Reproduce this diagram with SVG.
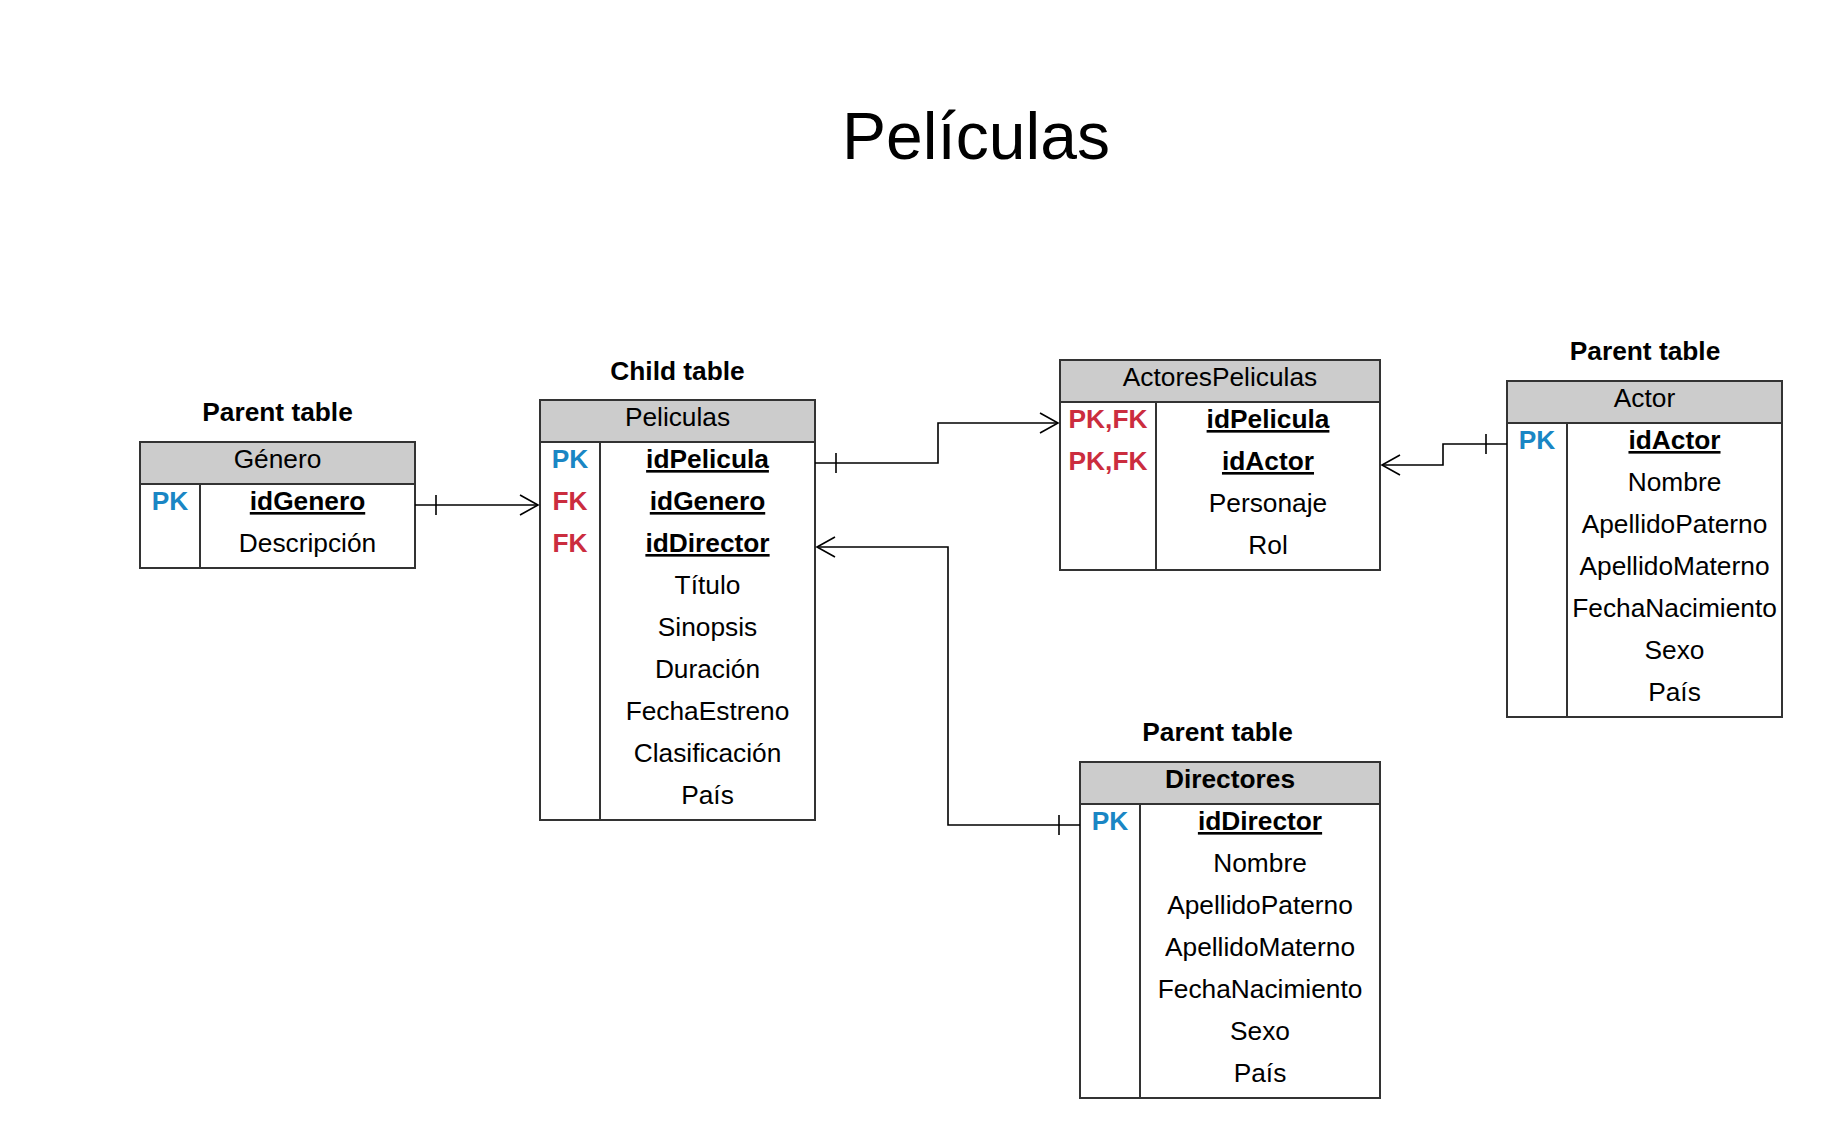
<svg xmlns="http://www.w3.org/2000/svg" width="1823" height="1138" viewBox="0 0 1823 1138">
<style>
text{font-family:"Liberation Sans",Arial,sans-serif;font-size:26.3px;fill:#000;text-anchor:middle}
.title{font-size:66px}
.lbl{font-weight:bold}
.key{font-weight:bold;text-decoration:underline}
.pk{font-weight:bold;fill:#1a86c4}
.fk{font-weight:bold;fill:#cb2d3e}
.hdr{fill:#cccccc;stroke:#333;stroke-width:2}
.box{fill:#fff;stroke:#333;stroke-width:2}
.div{stroke:#333;stroke-width:2}
.conn{fill:none;stroke:#000;stroke-width:1.6}
</style>
<defs>
<marker id="arr" markerUnits="userSpaceOnUse" markerWidth="24" markerHeight="24" viewBox="-20 -12 24 24" refX="0" refY="0" orient="auto">
<path d="M-18,-10 L0,0 L-18,10" fill="none" stroke="#000" stroke-width="1.6"/>
</marker>
</defs>
<rect width="1823" height="1138" fill="#fff"/>
<text class="title" x="976" y="159">Películas</text>

<g id="genero">
<text class="lbl" x="277.5" y="421">Parent table</text>
<rect class="box" x="140" y="442" width="275" height="126"/>
<rect class="hdr" x="140" y="442" width="275" height="42"/>
<line class="div" x1="200" y1="484" x2="200" y2="568"/>
<text x="277.5" y="468">Género</text>
<text class="pk" x="170" y="510">PK</text>
<text class="key" x="307.5" y="510">idGenero</text>
<text x="307.5" y="552">Descripción</text>
</g>

<g id="peliculas">
<text class="lbl" x="677.5" y="380">Child table</text>
<rect class="box" x="540" y="400" width="275" height="420"/>
<rect class="hdr" x="540" y="400" width="275" height="42"/>
<line class="div" x1="600" y1="442" x2="600" y2="820"/>
<text x="677.5" y="426">Peliculas</text>
<text class="pk" x="570" y="468">PK</text>
<text class="key" x="707.5" y="468">idPelicula</text>
<text class="fk" x="570" y="510">FK</text>
<text class="key" x="707.5" y="510">idGenero</text>
<text class="fk" x="570" y="552">FK</text>
<text class="key" x="707.5" y="552">idDirector</text>
<text x="707.5" y="594">Título</text>
<text x="707.5" y="636">Sinopsis</text>
<text x="707.5" y="678">Duración</text>
<text x="707.5" y="720">FechaEstreno</text>
<text x="707.5" y="762">Clasificación</text>
<text x="707.5" y="804">País</text>
</g>

<g id="actorespeliculas">
<rect class="box" x="1060" y="360" width="320" height="210"/>
<rect class="hdr" x="1060" y="360" width="320" height="42"/>
<line class="div" x1="1156" y1="402" x2="1156" y2="570"/>
<text x="1220" y="386">ActoresPeliculas</text>
<text class="fk" x="1108" y="428">PK,FK</text>
<text class="key" x="1268" y="428">idPelicula</text>
<text class="fk" x="1108" y="470">PK,FK</text>
<text class="key" x="1268" y="470">idActor</text>
<text x="1268" y="512">Personaje</text>
<text x="1268" y="554">Rol</text>
</g>

<g id="actor">
<text class="lbl" x="1645" y="360">Parent table</text>
<rect class="box" x="1507" y="381" width="275" height="336"/>
<rect class="hdr" x="1507" y="381" width="275" height="42"/>
<line class="div" x1="1567" y1="423" x2="1567" y2="717"/>
<text x="1644.5" y="407">Actor</text>
<text class="pk" x="1537" y="449">PK</text>
<text class="key" x="1674.5" y="449">idActor</text>
<text x="1674.5" y="491">Nombre</text>
<text x="1674.5" y="533">ApellidoPaterno</text>
<text x="1674.5" y="575">ApellidoMaterno</text>
<text x="1674.5" y="617">FechaNacimiento</text>
<text x="1674.5" y="659">Sexo</text>
<text x="1674.5" y="701">País</text>
</g>

<g id="directores">
<text class="lbl" x="1217.5" y="741">Parent table</text>
<rect class="box" x="1080" y="762" width="300" height="336"/>
<rect class="hdr" x="1080" y="762" width="300" height="42"/>
<line class="div" x1="1140" y1="804" x2="1140" y2="1098"/>
<text class="lbl" x="1230" y="788">Directores</text>
<text class="pk" x="1110" y="830">PK</text>
<text class="key" x="1260" y="830">idDirector</text>
<text x="1260" y="872">Nombre</text>
<text x="1260" y="914">ApellidoPaterno</text>
<text x="1260" y="956">ApellidoMaterno</text>
<text x="1260" y="998">FechaNacimiento</text>
<text x="1260" y="1040">Sexo</text>
<text x="1260" y="1082">País</text>
</g>

<g id="connectors">
<path class="conn" d="M415,505 H538" marker-end="url(#arr)"/>
<path class="conn" d="M436,495 V515"/>
<path class="conn" d="M815,463 H938 V423 H1058" marker-end="url(#arr)"/>
<path class="conn" d="M836,453 V473"/>
<path class="conn" d="M1080,825 H948 V547 H817" marker-end="url(#arr)"/>
<path class="conn" d="M1059,815 V835"/>
<path class="conn" d="M1507,444 H1443 V465 H1382" marker-end="url(#arr)"/>
<path class="conn" d="M1486,434 V454"/>
</g>
</svg>
